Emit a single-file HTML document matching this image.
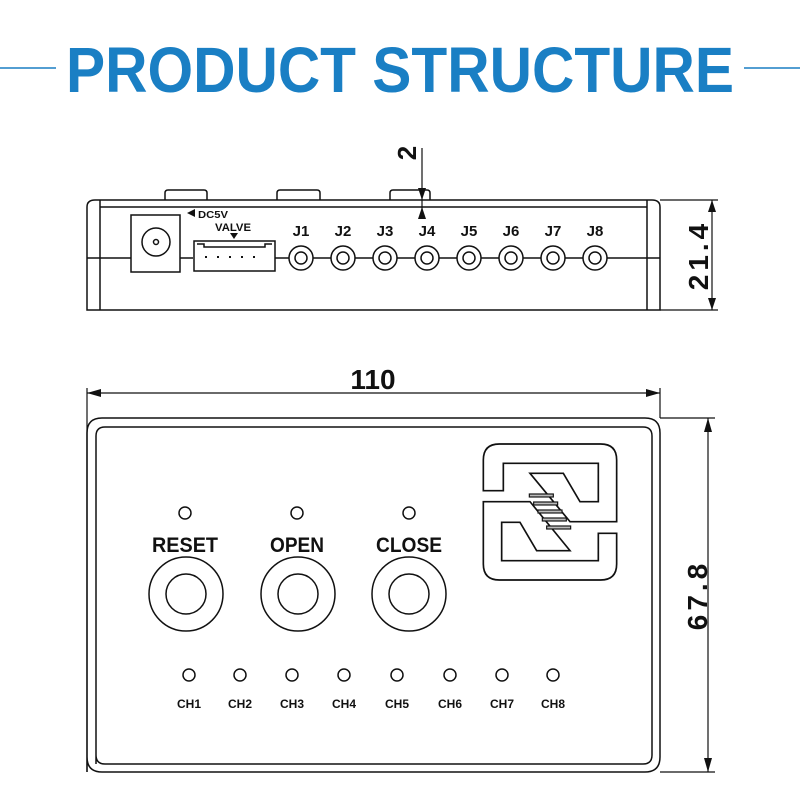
<!DOCTYPE html>
<html><head><meta charset="utf-8"><style>
html,body{margin:0;padding:0;background:#fff;}
svg{display:block;}
</style></head><body>
<svg width="800" height="800" viewBox="0 0 800 800" xmlns="http://www.w3.org/2000/svg" font-family="Liberation Sans, sans-serif">
<!-- Title -->
<line x1="0" y1="68" x2="56" y2="68" stroke="#1a7fc4" stroke-width="1.5"/>
<line x1="744" y1="68" x2="800" y2="68" stroke="#1a7fc4" stroke-width="1.5"/>
<text x="400" y="92" text-anchor="middle" font-size="64" font-weight="bold" fill="#1a7fc4" textLength="668" lengthAdjust="spacingAndGlyphs">PRODUCT STRUCTURE</text>

<g fill="none" stroke="#111" stroke-width="1.5">
<!-- Top view -->
<path d="M165,200 V193 Q165,190 168,190 H204 Q207,190 207,193 V200"/>
<path d="M277,200 V193 Q277,190 280,190 H317 Q320,190 320,193 V200"/>
<path d="M390,200 V193 Q390,190 393,190 H427 Q430,190 430,193 V200"/>
<path d="M87,310 V207 Q87,200 95,200 H652 Q660,200 660,207 V310 Z"/>
<line x1="100" y1="200" x2="100" y2="310"/>
<line x1="647" y1="200" x2="647" y2="310"/>
<line x1="100" y1="207" x2="647" y2="207"/>
<line x1="87" y1="258" x2="131" y2="258"/>
<line x1="180" y1="258" x2="193" y2="258"/>
<line x1="275" y1="258" x2="660" y2="258"/>
<rect x="131" y="215" width="49" height="57" fill="#fff"/>
<circle cx="156" cy="242" r="14"/>
<circle cx="156" cy="242" r="2.5"/>
<rect x="194" y="241" width="81" height="30" fill="#fff"/>
<path d="M197,244 H204 V247 H265 V244 H272"/>
<g fill="#fff">
<circle cx="301" cy="258" r="12"/><circle cx="301" cy="258" r="6"/>
<circle cx="343" cy="258" r="12"/><circle cx="343" cy="258" r="6"/>
<circle cx="385" cy="258" r="12"/><circle cx="385" cy="258" r="6"/>
<circle cx="427" cy="258" r="12"/><circle cx="427" cy="258" r="6"/>
<circle cx="469" cy="258" r="12"/><circle cx="469" cy="258" r="6"/>
<circle cx="511" cy="258" r="12"/><circle cx="511" cy="258" r="6"/>
<circle cx="553" cy="258" r="12"/><circle cx="553" cy="258" r="6"/>
<circle cx="595" cy="258" r="12"/><circle cx="595" cy="258" r="6"/>
</g>
<!-- dim 2 -->
<line x1="422" y1="148" x2="422" y2="218" stroke-width="1.2"/>
<!-- dim 21.4 -->
<line x1="660" y1="200" x2="718" y2="200" stroke-width="1.2"/>
<line x1="660" y1="310" x2="718" y2="310" stroke-width="1.2"/>
<line x1="712" y1="200" x2="712" y2="310" stroke-width="1.2"/>

<!-- Bottom view -->
<line x1="87" y1="388" x2="87" y2="772" stroke-width="1.2"/>
<line x1="660" y1="388" x2="660" y2="418" stroke-width="1.2"/>
<line x1="87" y1="393" x2="660" y2="393" stroke-width="1.2"/>
<line x1="660" y1="418" x2="715" y2="418" stroke-width="1.2"/>
<line x1="660" y1="772" x2="715" y2="772" stroke-width="1.2"/>
<line x1="708" y1="418" x2="708" y2="772" stroke-width="1.2"/>
<path d="M87,772 V433 Q87,418 102,418 H645 Q660,418 660,433 V757 Q660,772 645,772 H102 Q87,772 87,757 Z"/>
<path d="M96,764 V436 Q96,427 105,427 H643 Q652,427 652,436 V755 Q652,764 643,764 H105 Q96,764 96,755 Z"/>
<circle cx="185" cy="513" r="6"/><circle cx="297" cy="513" r="6"/><circle cx="409" cy="513" r="6"/>
<circle cx="186" cy="594" r="37"/><circle cx="186" cy="594" r="20"/>
<circle cx="298" cy="594" r="37"/><circle cx="298" cy="594" r="20"/>
<circle cx="409" cy="594" r="37"/><circle cx="409" cy="594" r="20"/>
<circle cx="189" cy="675" r="6"/><circle cx="240" cy="675" r="6"/><circle cx="292" cy="675" r="6"/><circle cx="344" cy="675" r="6"/>
<circle cx="397" cy="675" r="6"/><circle cx="450" cy="675" r="6"/><circle cx="502" cy="675" r="6"/><circle cx="553" cy="675" r="6"/>
<!-- Logo -->
<g transform="translate(470,430) scale(0.3333)" stroke-width="5">
<path d="M40,182 V90 Q40,42 88,42 H392 Q440,42 440,90 V275 H300 L180,130 H280 L330,215 H385 V100 H100 V182 Z"/>
<path d="M440,310 V402 Q440,450 392,450 H88 Q40,450 40,402 V215 H180 L300,362 H200 L150,277 H95 V392 H385 V310 Z"/>
</g>
</g>
<!-- valve pins -->
<g fill="#111">
<rect x="205" y="256" width="2" height="2"/><rect x="217" y="256" width="2" height="2"/><rect x="229" y="256" width="2" height="2"/><rect x="241" y="256" width="2" height="2"/><rect x="253" y="256" width="2" height="2"/>
</g>
<!-- arrowheads -->
<g fill="#111">
<polygon points="422,200 418,188 426,188"/>
<polygon points="422,207 418,219 426,219"/>
<polygon points="712,200 708,212 716,212"/>
<polygon points="712,310 708,298 716,298"/>
<polygon points="87,393 101,389 101,397"/>
<polygon points="660,393 646,389 646,397"/>
<polygon points="708,418 704,432 712,432"/>
<polygon points="708,772 704,758 712,758"/>
<polygon points="187,213 195,209 195,217"/>
<polygon points="230,233 238,233 234,239"/>
</g>
<g fill="#bbb" stroke="#111" stroke-width="3.5" transform="translate(470,430) scale(0.3333)">
<rect x="178" y="192" width="72" height="9"/>
<rect x="191" y="216" width="72" height="9"/>
<rect x="204" y="240" width="72" height="9"/>
<rect x="217" y="264" width="72" height="9"/>
<rect x="230" y="288" width="72" height="9"/>
</g>
<!-- labels -->
<g fill="#111" font-weight="bold">
<text x="198" y="218" font-size="10" textLength="30" lengthAdjust="spacingAndGlyphs">DC5V</text>
<text x="233" y="231" font-size="11" text-anchor="middle" textLength="36" lengthAdjust="spacingAndGlyphs">VALVE</text>
<g font-size="15" text-anchor="middle">
<text x="301" y="236">J1</text><text x="343" y="236">J2</text><text x="385" y="236">J3</text><text x="427" y="236">J4</text>
<text x="469" y="236">J5</text><text x="511" y="236">J6</text><text x="553" y="236">J7</text><text x="595" y="236">J8</text>
</g>
<text transform="translate(416,153) rotate(-90)" font-size="26" text-anchor="middle">2</text>
<text transform="translate(708,255) rotate(-90)" font-size="28" text-anchor="middle" letter-spacing="4">21.4</text>
<text transform="translate(707,595) rotate(-90)" font-size="28" text-anchor="middle" letter-spacing="4">67.8</text>
<text x="373" y="389" font-size="28" text-anchor="middle">110</text>
<g font-size="21" text-anchor="middle">
<text x="185" y="552" textLength="66" lengthAdjust="spacingAndGlyphs">RESET</text>
<text x="297" y="552" textLength="54" lengthAdjust="spacingAndGlyphs">OPEN</text>
<text x="409" y="552" textLength="66" lengthAdjust="spacingAndGlyphs">CLOSE</text>
</g>
<g font-size="12" text-anchor="middle">
<text x="189" y="708">CH1</text><text x="240" y="708">CH2</text><text x="292" y="708">CH3</text><text x="344" y="708">CH4</text>
<text x="397" y="708">CH5</text><text x="450" y="708">CH6</text><text x="502" y="708">CH7</text><text x="553" y="708">CH8</text>
</g>
</g>
</svg>
</body></html>
